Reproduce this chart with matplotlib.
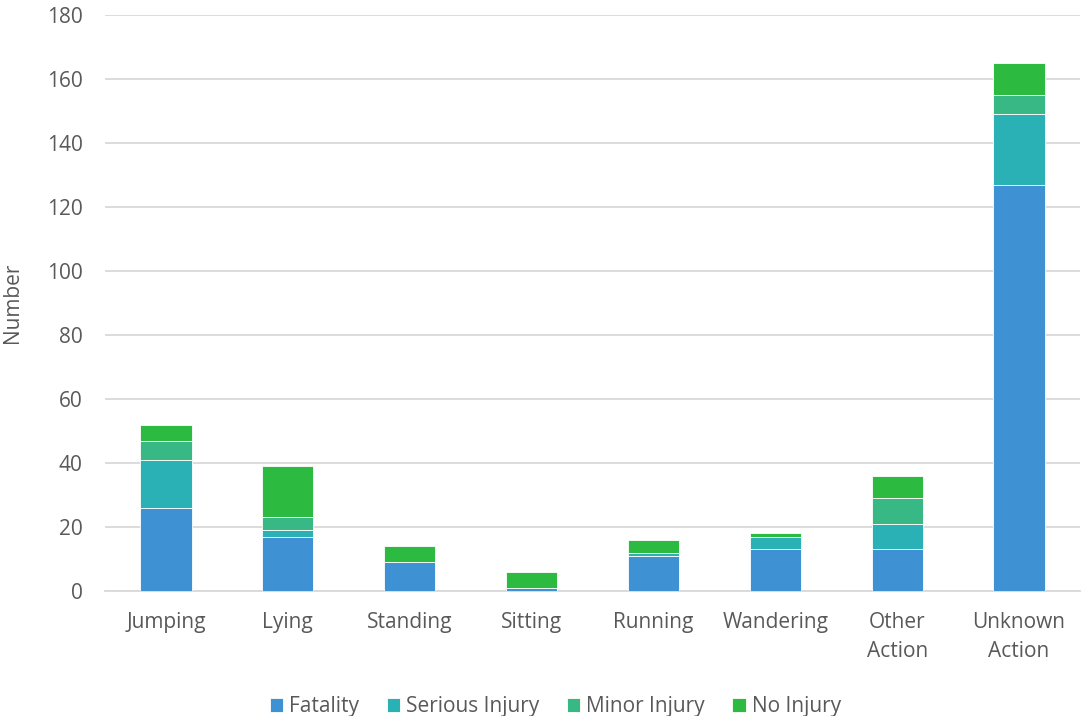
import numpy as np
import matplotlib
matplotlib.use("Agg")
from matplotlib import pyplot as plt

categories = ["Jumping", "Lying", "Standing", "Sitting", "Running",
              "Wandering", "Other\nAction", "Unknown\nAction"]
fatality = [26, 17, 9, 1, 11, 13, 13, 127]
serious  = [15, 2, 0, 0, 1, 4, 8, 22]
minor    = [6, 4, 0, 0, 0, 0, 8, 6]
no_inj   = [5, 16, 5, 5, 4, 1, 7, 10]
series_names = ["Fatality", "Serious Injury", "Minor Injury", "No Injury"]
colors = ["#3E92D3", "#2AB1B6", "#37B884", "#2DBA41"]

plt.rcParams['font.family'] = ['Open Sans', 'DejaVu Sans']
TXT = "#595959"

fig = plt.figure(figsize=(10.89, 7.16), dpi=100)
ax = fig.add_axes([105/1089, 1-591/716, 975/1089, 576/716])

x = np.arange(len(categories))
bottom = np.zeros(len(categories))
for name, vals, c in zip(series_names, [fatality, serious, minor, no_inj], colors):
    ax.bar(x, vals, 0.42, bottom=bottom, color=c, label=name,
           edgecolor="white", linewidth=0.6, zorder=3)
    bottom += np.array(vals)

ax.set_xlim(-0.5, len(categories) - 0.5)
ax.set_ylim(0, 180)
ax.set_yticks(np.arange(0, 181, 20))
ax.set_xticks(x)
ax.set_xticklabels(categories, fontsize=15, color=TXT, linespacing=1.5)
ax.tick_params(axis="y", labelsize=15, labelcolor=TXT, length=0, pad=16)
ax.tick_params(axis="x", length=0, pad=15)
ax.grid(axis="y", color="#D9D9D9", linewidth=1.3, zorder=0)
for s in ["top", "right", "left"]:
    ax.spines[s].set_visible(False)
ax.spines["bottom"].set_color("#D9D9D9")
ax.spines["bottom"].set_linewidth(1.3)
ax.set_ylabel("Number", fontsize=15, color=TXT, labelpad=17)

leg = fig.legend(loc="lower center", bbox_to_anchor=(0.51, -0.028), ncol=4,
                 frameon=False, fontsize=15, handlelength=0.65, handleheight=0.65,
                 handletextpad=0.3, columnspacing=1.3)
for t in leg.get_texts():
    t.set_color(TXT)

fig.savefig("out.png", dpi=100)
